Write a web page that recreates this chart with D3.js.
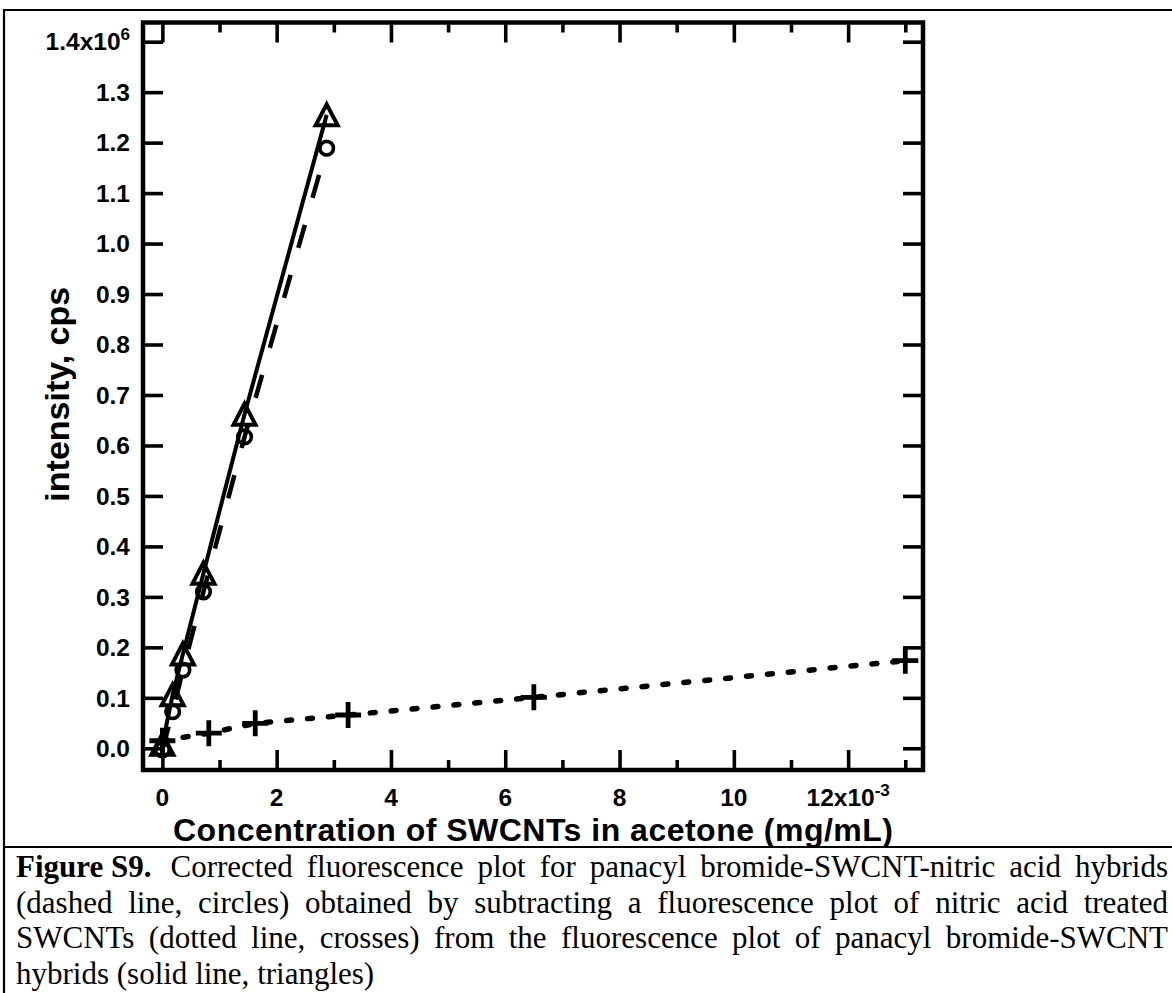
<!DOCTYPE html>
<html>
<head>
<meta charset="utf-8">
<script src="https://cdn.jsdelivr.net/npm/d3@7"></script>
<style>
  html, body { margin: 0; padding: 0; background: #fff; }
  svg { display: block; }
</style>
</head>
<body>
<svg id="fig" width="1172" height="993"></svg>
<script>
// Concentrations in units of 1e-3 mg/mL, intensities in units of 1e6 cps
const hybridConc      = [0, 0.18, 0.359, 0.719, 1.4375, 2.875];
const hybridIntensity = [0.008, 0.106, 0.187, 0.347, 0.662, 1.255];   // solid line, triangles
const correctedConc      = [0, 0.18, 0.359, 0.719, 1.4375, 2.875];
const correctedIntensity = [-0.003, 0.0725, 0.155, 0.310, 0.617, 1.189]; // dashed line, circles
const nitricConc      = [0, 0.8125, 1.625, 3.25, 6.5, 13];
const nitricIntensity = [0.015, 0.030, 0.0495, 0.066, 0.101, 0.1736];  // dotted line, crosses

const xTickValues = [0, 2, 4, 6, 8, 10, 12];
const xTickLabels = ["0", "2", "4", "6", "8", "10", "12x10"];
const xMinorTicks = [1, 3, 5, 7, 9, 11, 13];
const yTickValues = [0, 0.1, 0.2, 0.3, 0.4, 0.5, 0.6, 0.7, 0.8, 0.9, 1.0, 1.1, 1.2, 1.3, 1.4];
const yTickLabels = ["0.0", "0.1", "0.2", "0.3", "0.4", "0.5", "0.6", "0.7", "0.8", "0.9", "1.0", "1.1", "1.2", "1.3", "1.4x10"];

const xTitle = "Concentration of SWCNTs in acetone (mg/mL)";
const yTitle = "intensity, cps";

const captionLines = [
  {bold: "Figure S9.", text: "Corrected fluorescence plot for panacyl bromide-SWCNT-nitric acid hybrids", justify: true},
  {bold: "", text: "(dashed line, circles) obtained by subtracting a fluorescence plot of nitric acid treated", justify: true},
  {bold: "", text: "SWCNTs (dotted line, crosses) from the fluorescence plot of panacyl bromide-SWCNT", justify: true},
  {bold: "", text: "hybrids (solid line, triangles)", justify: false}
];

const svg = d3.select("#fig");
const sans = "'Liberation Sans', Arial, Helvetica, sans-serif";
const serif = "'Liberation Serif', 'Times New Roman', serif";

// Figure frame and caption separator
svg.append("path")
  .attr("d", "M4,993 V10 H1172")
  .attr("fill", "none").attr("stroke", "#000").attr("stroke-width", 2.2);
svg.append("line")
  .attr("x1", 4).attr("x2", 1172).attr("y1", 847).attr("y2", 847)
  .attr("stroke", "#000").attr("stroke-width", 2.2);

// Plot area
const plot = {left: 143, right: 923, top: 22.5, bottom: 770};
const x = d3.scaleLinear().domain([-0.339, 13.31]).range([plot.left, plot.right]);
const y = d3.scaleLinear().domain([-0.043, 1.438]).range([plot.bottom, plot.top]);

const axisW = 4.5, tickW = 3.6, majorLen = 20, minorLen = 10;

function inwardAxis(axisFn, scale, values, len, translate) {
  const g = svg.append("g").attr("transform", translate)
    .call(axisFn(scale).tickValues(values).tickSize(-len).tickFormat(""));
  g.select(".domain").remove();
  g.selectAll(".tick line").attr("stroke", "#000").attr("stroke-width", tickW);
  return g;
}
inwardAxis(d3.axisBottom, x, xTickValues, majorLen, `translate(0,${plot.bottom})`);
inwardAxis(d3.axisBottom, x, xMinorTicks, minorLen, `translate(0,${plot.bottom})`);
inwardAxis(d3.axisTop, x, xTickValues, majorLen, `translate(0,${plot.top})`);
inwardAxis(d3.axisTop, x, xMinorTicks, minorLen, `translate(0,${plot.top})`);
inwardAxis(d3.axisLeft, y, yTickValues, majorLen, `translate(${plot.left},0)`);
inwardAxis(d3.axisRight, y, yTickValues, majorLen, `translate(${plot.right},0)`);

svg.append("rect")
  .attr("x", plot.left).attr("y", plot.top)
  .attr("width", plot.right - plot.left).attr("height", plot.bottom - plot.top)
  .attr("fill", "none").attr("stroke", "#000").attr("stroke-width", axisW);

// Tick labels
const labelSize = 24.5, supSize = 17;
const xl = svg.append("g").attr("font-family", sans).attr("font-weight", "bold").attr("font-size", labelSize);
xTickValues.forEach((v, i) => {
  const t = xl.append("text").attr("y", 806).attr("text-anchor", "middle").attr("x", x(v));
  t.append("tspan").text(xTickLabels[i]);
  if (i === xTickValues.length - 1) {
    t.append("tspan").attr("font-size", supSize).attr("dy", -10).text("-3");
  }
});
const yl = svg.append("g").attr("font-family", sans).attr("font-weight", "bold").attr("font-size", labelSize);
yTickValues.forEach((v, i) => {
  const t = yl.append("text").attr("x", 130).attr("y", y(v) + labelSize * 0.36).attr("text-anchor", "end");
  t.append("tspan").text(yTickLabels[i]);
  if (i === yTickValues.length - 1) {
    t.append("tspan").attr("font-size", supSize).attr("dy", -10).text("6");
  }
});

// Axis titles
svg.append("text")
  .attr("x", (plot.left + plot.right) / 2).attr("y", 841)
  .attr("text-anchor", "middle")
  .attr("font-family", sans).attr("font-weight", "bold").attr("font-size", 32)
  .attr("textLength", 720).attr("lengthAdjust", "spacing")
  .text(xTitle);
svg.append("text")
  .attr("transform", `translate(69,${(plot.top + plot.bottom) / 2 - 2}) rotate(-90)`)
  .attr("text-anchor", "middle")
  .attr("font-family", sans).attr("font-weight", "bold").attr("font-size", 34)
  .text(yTitle);

// Series lines
const line = d3.line().x(d => x(d[0])).y(d => y(d[1]));
const zip = (a, b) => a.map((v, i) => [v, b[i]]);

svg.append("path").datum(zip(nitricConc, nitricIntensity))
  .attr("d", line).attr("fill", "none").attr("stroke", "#000")
  .attr("stroke-width", 5.5).attr("stroke-linecap", "round").attr("stroke-dasharray", "5,16");
svg.append("path").datum(zip(correctedConc, correctedIntensity))
  .attr("d", line).attr("fill", "none").attr("stroke", "#000")
  .attr("stroke-width", 4.5).attr("stroke-dasharray", "24,28");
svg.append("path").datum(zip(hybridConc, hybridIntensity))
  .attr("d", line).attr("fill", "none").attr("stroke", "#000")
  .attr("stroke-width", 4);

// Markers
svg.append("g").selectAll("path").data(zip(hybridConc, hybridIntensity)).join("path")
  .attr("transform", d => `translate(${x(d[0])},${y(d[1])})`)
  .attr("d", "M0,-10.5 L11,10.5 L-11,10.5 Z")
  .attr("fill", "none").attr("stroke", "#000").attr("stroke-width", 4).attr("stroke-linejoin", "miter");
svg.append("g").selectAll("circle").data(zip(correctedConc, correctedIntensity)).join("circle")
  .attr("cx", d => x(d[0])).attr("cy", d => y(d[1])).attr("r", 6.8)
  .attr("fill", "none").attr("stroke", "#000").attr("stroke-width", 3.6);
svg.append("g").selectAll("path").data(zip(nitricConc, nitricIntensity)).join("path")
  .attr("transform", d => `translate(${x(d[0])},${y(d[1])})`)
  .attr("d", "M-13,0 H13 M0,-13 V13")
  .attr("fill", "none").attr("stroke", "#000").attr("stroke-width", 4.8);

// Caption, justified between the frame margins
const capLeft = 16, capRight = 1168, capTop = 877, capLead = 35.5, capSize = 31;
const cap = svg.append("g").attr("font-family", serif).attr("font-size", capSize);
captionLines.forEach((ln, li) => {
  const yy = capTop + li * capLead;
  const words = [];
  if (ln.bold) words.push({w: ln.bold, bold: true, extra: 5});
  ln.text.split(" ").forEach(w => words.push({w, bold: false, extra: 0}));
  const nodes = words.map(wd => cap.append("text").attr("y", yy)
    .attr("font-weight", wd.bold ? "bold" : "normal").text(wd.w));
  const widths = nodes.map(n => n.node().getComputedTextLength());
  const spaceW = capSize * 0.25;
  const total = d3.sum(widths) + d3.sum(words, w => w.extra);
  const gap = ln.justify ? (capRight - capLeft - total) / (words.length - 1) : spaceW;
  let cx = capLeft;
  nodes.forEach((n, i) => {
    n.attr("x", cx);
    cx += widths[i] + words[i].extra + gap;
  });
});
</script>
</body>
</html>
